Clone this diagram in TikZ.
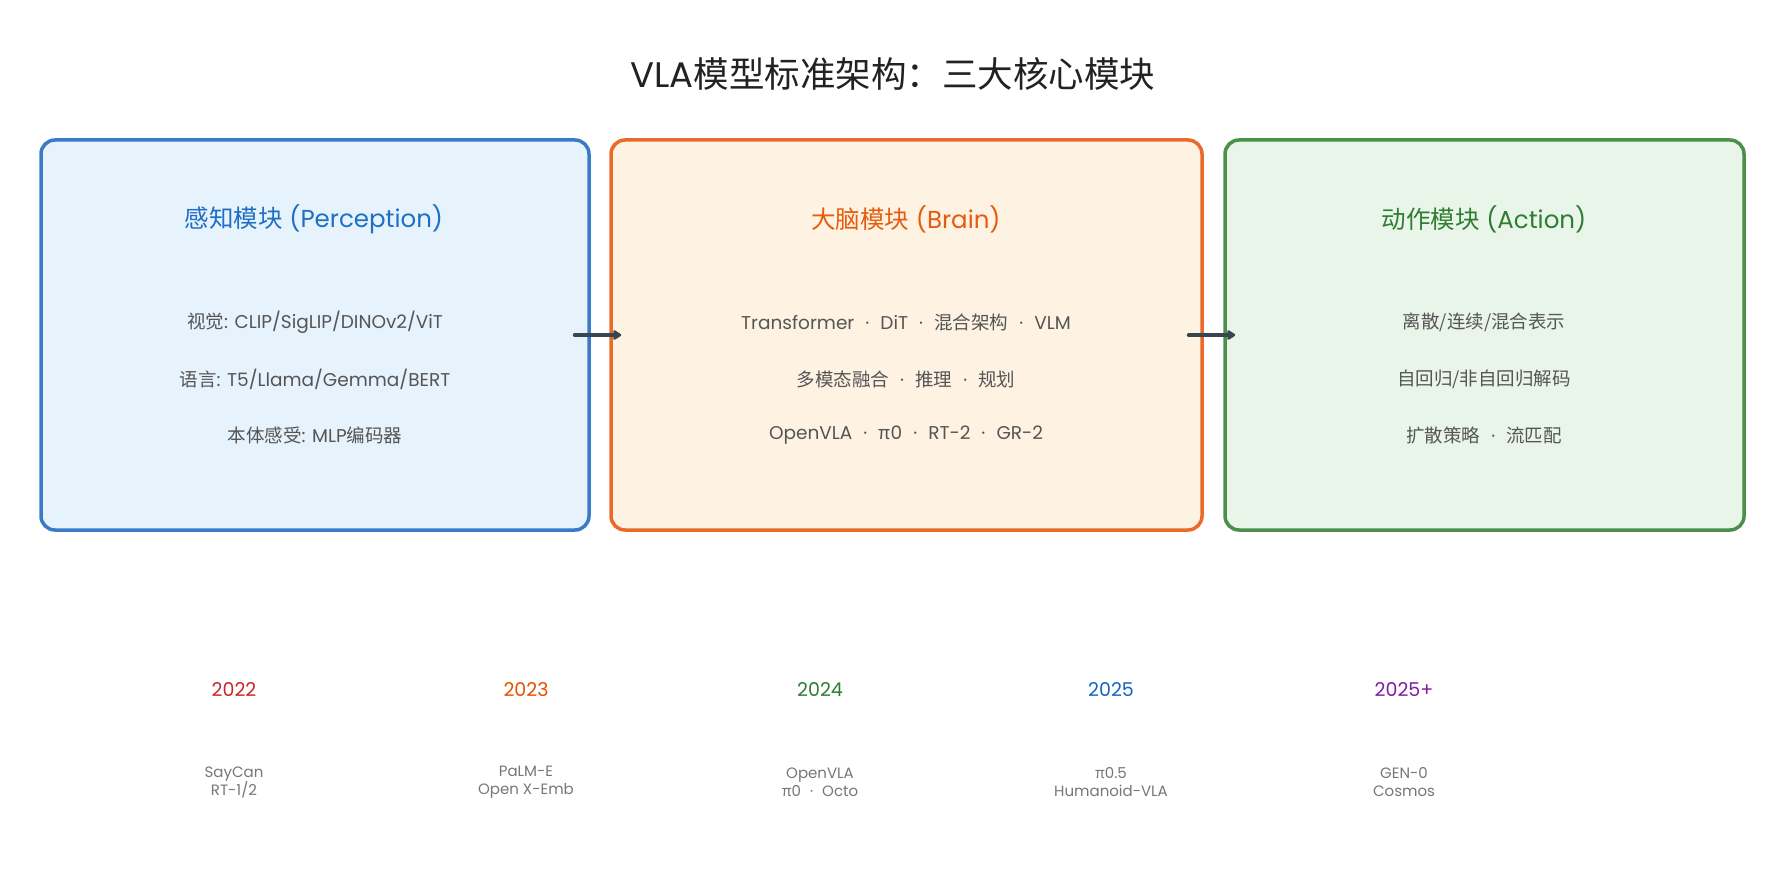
\documentclass[tikz,border=0pt]{standalone}
\usepackage{fontspec}
\setmainfont{Poppins}
\newfontfamily\cjk{Noto Sans CJK SC}
\newcommand\cn[1]{{\cjk #1}}
\newcommand\sep{\hspace{0.6em}\textperiodcentered\hspace{0.6em}}
\usetikzlibrary{arrows.meta}
\definecolor{bluebd}{HTML}{3A7BC8}
\definecolor{bluefill}{HTML}{E6F2FC}
\definecolor{bluetx}{HTML}{1F6FC5}
\definecolor{orgbd}{HTML}{EA6A2A}
\definecolor{orgfill}{HTML}{FEF2E3}
\definecolor{orgtx}{HTML}{E65C0F}
\definecolor{grnbd}{HTML}{4A8F4A}
\definecolor{grnfill}{HTML}{EAF5EA}
\definecolor{grntx}{HTML}{2E7D32}
\definecolor{bodytx}{HTML}{555555}
\definecolor{desctx}{HTML}{777777}
\definecolor{arrowc}{HTML}{37474F}
\definecolor{titletx}{HTML}{222222}
\definecolor{y22}{HTML}{C62828}
\definecolor{y23}{HTML}{E65100}
\definecolor{y24}{HTML}{2E7D32}
\definecolor{y25}{HTML}{1565C0}
\definecolor{y25p}{HTML}{7B1FA2}
\tikzset{
  modbox/.style={draw, line width=3.5pt, rounded corners=14pt, minimum height=390pt, inner sep=0pt},
  modtitle/.style={font=\fontsize{24.5}{28}\selectfont, anchor=center, inner sep=0pt},
  bodyline/.style={font=\fontsize{18.5}{22}\selectfont, text=bodytx, anchor=center, inner sep=0pt},
  yearlbl/.style={font=\fontsize{19}{22}\selectfont, anchor=center, inner sep=0pt},
  desclbl/.style={font=\fontsize{15}{18}\selectfont, text=desctx, anchor=center, inner sep=0pt, align=center},
  flow/.style={draw=arrowc, line width=4pt, line cap=round, -{Triangle[round, length=9pt, width=11pt]}}
}
\begin{document}
\begin{tikzpicture}[x=1pt, y=-1pt]
\path[use as bounding box, fill=white] (0,0) rectangle (1785,885);

\node[font=\fontsize{35.5}{40}\selectfont, text=titletx, inner sep=0pt] (title) at (893,74) {VLA\cn{模型标准架构：三大核心模块}};

\node[modbox, draw=bluebd, fill=bluefill, minimum width=548pt] (b1) at (315,335) {};
\node[modbox, draw=orgbd, fill=orgfill, minimum width=591pt] (b2) at (906.5,335) {};
\node[modbox, draw=grnbd, fill=grnfill, minimum width=519pt] (b3) at (1484.5,335) {};

\node[modtitle, text=bluetx] (t1) at (314,219) {\cn{感知模块} (Perception)};
\node[bodyline] (p1) at (315,322) {\cn{视觉}: CLIP/SigLIP/DINOv2/ViT};
\node[bodyline] (p2) at (315,379) {\cn{语言}: T5/Llama/Gemma/BERT};
\node[bodyline] (p3) at (315,435) {\cn{本体感受}: MLP\cn{编码器}};

\node[modtitle, text=orgtx] (t2) at (906,219) {\cn{大脑模块} (Brain)};
\node[bodyline] (q1) at (906,322) {Transformer\sep DiT\sep\cn{混合架构}\sep VLM};
\node[bodyline] (q2) at (906,379) {\cn{多模态融合}\sep\cn{推理}\sep\cn{规划}};
\node[bodyline] (q3) at (906,435) {OpenVLA\sep\cn{π}0\sep RT-2\sep GR-2};

\node[modtitle, text=grntx] (t3) at (1484,219) {\cn{动作模块} (Action)};
\node[bodyline] (r1) at (1484,322) {\cn{离散/连续/混合表示}};
\node[bodyline] (r2) at (1484,379) {\cn{自回归/非自回归解码}};
\node[bodyline] (r3) at (1484,435) {\cn{扩散策略}\sep\cn{流匹配}};

\draw[flow] ([xshift=-16pt]b1.east) -- ([xshift=12pt]b2.west);
\draw[flow] ([xshift=-15pt]b2.east) -- ([xshift=12pt]b3.west);

\node[yearlbl, text=y22] (y1) at (234,690) {2022};
\node[yearlbl, text=y23] (y2) at (526,690) {2023};
\node[yearlbl, text=y24] (y3) at (820,690) {2024};
\node[yearlbl, text=y25] (y4) at (1111,690) {2025};
\node[yearlbl, text=y25p] (y5) at (1404,690) {2025+};

\node[desclbl] (d1) at (234,782) {SayCan\\RT-1/2};
\node[desclbl] (d2) at (526,782) {PaLM-E\\Open X-Emb};
\node[desclbl] (d3) at (820,782) {OpenVLA\\\cn{π}0\sep Octo};
\node[desclbl] (d4) at (1111,782) {\cn{π}0.5\\Humanoid-VLA};
\node[desclbl] (d5) at (1404,782) {GEN-0\\Cosmos};
\end{tikzpicture}
\end{document}
